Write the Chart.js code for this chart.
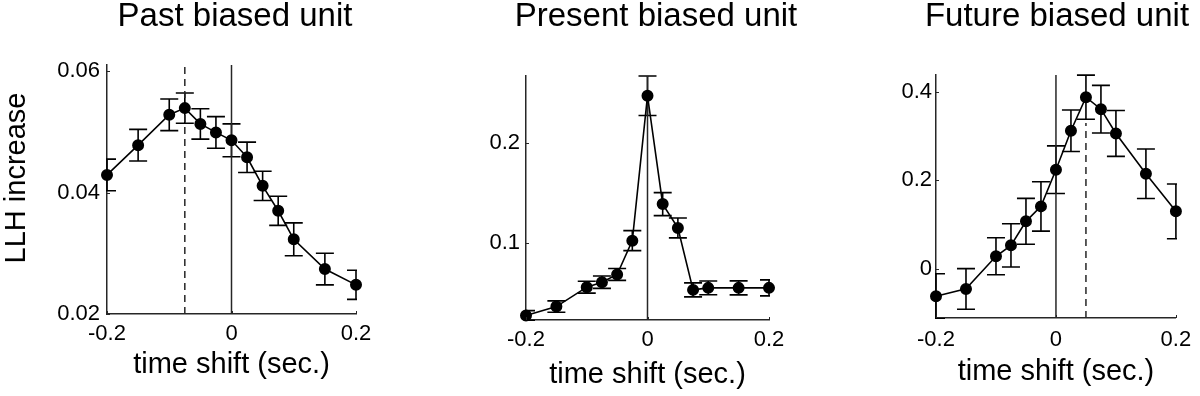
<!DOCTYPE html>
<html>
<head>
<meta charset="utf-8">
<script src="https://cdn.jsdelivr.net/npm/chart.js@4.4.1/dist/chart.umd.min.js"></script>
<style>
body { margin: 0; background: #fff; }
#wrap { position: relative; width: 1200px; height: 396px; font-family: "Liberation Sans", Arial, sans-serif; color: #000; }
canvas { position: absolute; top: 0; }
.title { position: absolute; top: 0px; width: 400px; text-align: center; font-size: 33px; line-height: 30px; white-space: nowrap; }
#ylab { position: absolute; left: -85px; top: 163px; width: 200px; height: 30px; line-height: 30px; text-align: center;
        font-size: 29px; white-space: nowrap; transform: rotate(-90deg); }
</style>
</head>
<body>
<div id="wrap">
  <canvas id="c1" width="400" height="396" style="left:0"></canvas>
  <canvas id="c2" width="400" height="396" style="left:400px"></canvas>
  <canvas id="c3" width="400" height="396" style="left:800px"></canvas>
  <div class="title" style="left:35px">Past biased unit</div>
  <div class="title" style="left:456px">Present biased unit</div>
  <div class="title" style="left:857px">Future biased unit</div>
  <div id="ylab">LLH increase</div>
</div>
<script>
// time shifts (sec.) shared by all three units
var shifts = [-0.2, -0.15, -0.1, -0.075, -0.05, -0.025, 0, 0.025, 0.05, 0.075, 0.1, 0.15, 0.2];

var pastLLH = [0.0429, 0.0478, 0.0528, 0.0539, 0.0513, 0.0499, 0.0486, 0.0458, 0.0411, 0.0370, 0.0323, 0.0274, 0.0248];
var pastErr = [0.0026, 0.0026, 0.0026, 0.0025, 0.0025, 0.0026, 0.0027, 0.0025, 0.0024, 0.0024, 0.0027, 0.0026, 0.0024];

var presentLLH = [0.0271, 0.0361, 0.0555, 0.0605, 0.0682, 0.102, 0.2468, 0.1385, 0.1147, 0.0528, 0.0548, 0.0548, 0.0548];
var presentErr = [0.005, 0.0057, 0.0059, 0.0062, 0.0059, 0.010, 0.0197, 0.0115, 0.0099, 0.007, 0.0069, 0.007, 0.008];

var futureLLH = [-0.0626, -0.046, 0.0279, 0.0528, 0.1072, 0.1411, 0.2242, 0.3125, 0.3887, 0.3615, 0.3064, 0.2151, 0.1298];
var futureErr = [0.051, 0.046, 0.042, 0.049, 0.052, 0.056, 0.054, 0.047, 0.050, 0.054, 0.052, 0.056, 0.062];

var xTicks = [-0.2, 0, 0.2];
var pastTicks = [0.02, 0.04, 0.06];
var presentTicks = [0.1, 0.2];
var futureTicks = [0, 0.2, 0.4];

var pastRange = [0.02, 0.061];
var presentRange = [0.0227, 0.2665];
var futureRange = [-0.112, 0.439];

// dashed marker at the peak shift (and how high it reaches)
var pastPeak = [-0.075, 0.061];
var futurePeak = [0.05, 0.33];

Chart.defaults.font.family = '"Liberation Sans", Arial, sans-serif';
Chart.defaults.color = '#000';

var errorBars = {
  id: 'errorBars',
  beforeDatasetsDraw: function(chart) {
    var ds = chart.data.datasets[0];
    if (!ds.errors) return;
    var ctx = chart.ctx, a = chart.chartArea, sx = chart.scales.x, sy = chart.scales.y;
    ctx.save();
    ctx.beginPath();
    ctx.rect(a.left - 1, a.top - 1, a.right - a.left + 2, a.bottom - a.top + 2);
    ctx.clip();
    ctx.strokeStyle = '#000';
    ctx.lineWidth = 1.6;
    ds.data.forEach(function(p, i) {
      var px = sx.getPixelForValue(p.x);
      var hi = sy.getPixelForValue(p.y + ds.errors[i]);
      var lo = sy.getPixelForValue(p.y - ds.errors[i]);
      ctx.beginPath();
      ctx.moveTo(px, hi); ctx.lineTo(px, lo);
      ctx.moveTo(px - 9, hi); ctx.lineTo(px + 9, hi);
      ctx.moveTo(px - 9, lo); ctx.lineTo(px + 9, lo);
      ctx.stroke();
    });
    ctx.restore();
  },
  // small inward ticks, matlab style
  afterDraw: function(chart) {
    var ctx = chart.ctx, a = chart.chartArea;
    ctx.save();
    ctx.strokeStyle = '#262626';
    ctx.lineWidth = 1;
    ctx.beginPath();
    chart.scales.y.ticks.forEach(function(t) {
      var py = Math.round(chart.scales.y.getPixelForValue(t.value)) + 0.5;
      ctx.moveTo(a.left, py); ctx.lineTo(a.left + 3, py);
    });
    chart.scales.x.ticks.forEach(function(t) {
      var px = Math.round(chart.scales.x.getPixelForValue(t.value)) + 0.5;
      ctx.moveTo(px, a.bottom); ctx.lineTo(px, a.bottom - 3);
    });
    ctx.stroke();
    ctx.restore();
  }
};

function makePanel(id, vals, errs, yTicks, yRange, peak, box) {
  var datasets = [{
    data: shifts.map(function(x, i) { return { x: x, y: vals[i] }; }),
    errors: errs,
    showLine: true,
    borderColor: '#000',
    borderWidth: 1.6,
    pointRadius: 5.2,
    pointBackgroundColor: '#000',
    pointBorderColor: '#000',
    clip: false,
    order: 0
  }, {
    data: [{ x: 0, y: yRange[0] }, { x: 0, y: yRange[1] }],
    showLine: true,
    borderColor: '#262626',
    borderWidth: 1.5,
    pointRadius: 0,
    order: 2
  }];
  if (peak) {
    datasets.push({
      data: [{ x: peak[0], y: yRange[0] }, { x: peak[0], y: peak[1] }],
      showLine: true,
      borderColor: '#262626',
      borderWidth: 1.5,
      borderDash: [7, 5],
      pointRadius: 0,
      order: 3
    });
  }
  return new Chart(document.getElementById(id), {
    type: 'scatter',
    data: { datasets: datasets },
    plugins: [errorBars],
    options: {
      responsive: false,
      animation: false,
      events: [],
      layout: { padding: { top: box.top, right: 400 - box.right, left: 0, bottom: 0 } },
      plugins: { legend: { display: false }, tooltip: { enabled: false } },
      scales: {
        x: {
          type: 'linear',
          min: -0.2,
          max: 0.2,
          afterBuildTicks: function(s) { s.ticks = xTicks.map(function(v) { return { value: v }; }); },
          afterFit: function(s) { s.height = 396 - box.bottom; },
          grid: { display: false, drawTicks: false },
          border: { display: true, color: '#262626', width: 1.5 },
          ticks: { font: { size: 22 }, padding: box.xTickPad, maxRotation: 0,
                   callback: function(v) { return String(v); } },
          title: { display: true, text: 'time shift (sec.)', font: { size: 29 },
                   padding: { top: 0, bottom: box.xTitlePad } }
        },
        y: {
          type: 'linear',
          min: yRange[0],
          max: yRange[1],
          afterBuildTicks: function(s) { s.ticks = yTicks.map(function(v) { return { value: v }; }); },
          afterFit: function(s) { s.width = box.left; },
          grid: { display: false, drawTicks: false },
          border: { display: true, color: '#262626', width: 1.5 },
          ticks: { font: { size: 22 }, padding: box.yTickPad,
                   callback: function(v) { return String(v); } }
        }
      }
    }
  });
}

makePanel('c1', pastLLH, pastErr, pastTicks, pastRange, pastPeak,
  { left: 107, right: 356, top: 65, bottom: 314, xTickPad: 6.3, yTickPad: 7, xTitlePad: 13.6 });
makePanel('c2', presentLLH, presentErr, presentTicks, presentRange, null,
  { left: 126, right: 369, top: 76, bottom: 320, xTickPad: 6.8, yTickPad: 6, xTitlePad: 3.6 });
makePanel('c3', futureLLH, futureErr, futureTicks, futureRange, futurePeak,
  { left: 136, right: 380, top: 75, bottom: 318, xTickPad: 8.8, yTickPad: 4, xTitlePad: 6.9 });
</script>
</body>
</html>
